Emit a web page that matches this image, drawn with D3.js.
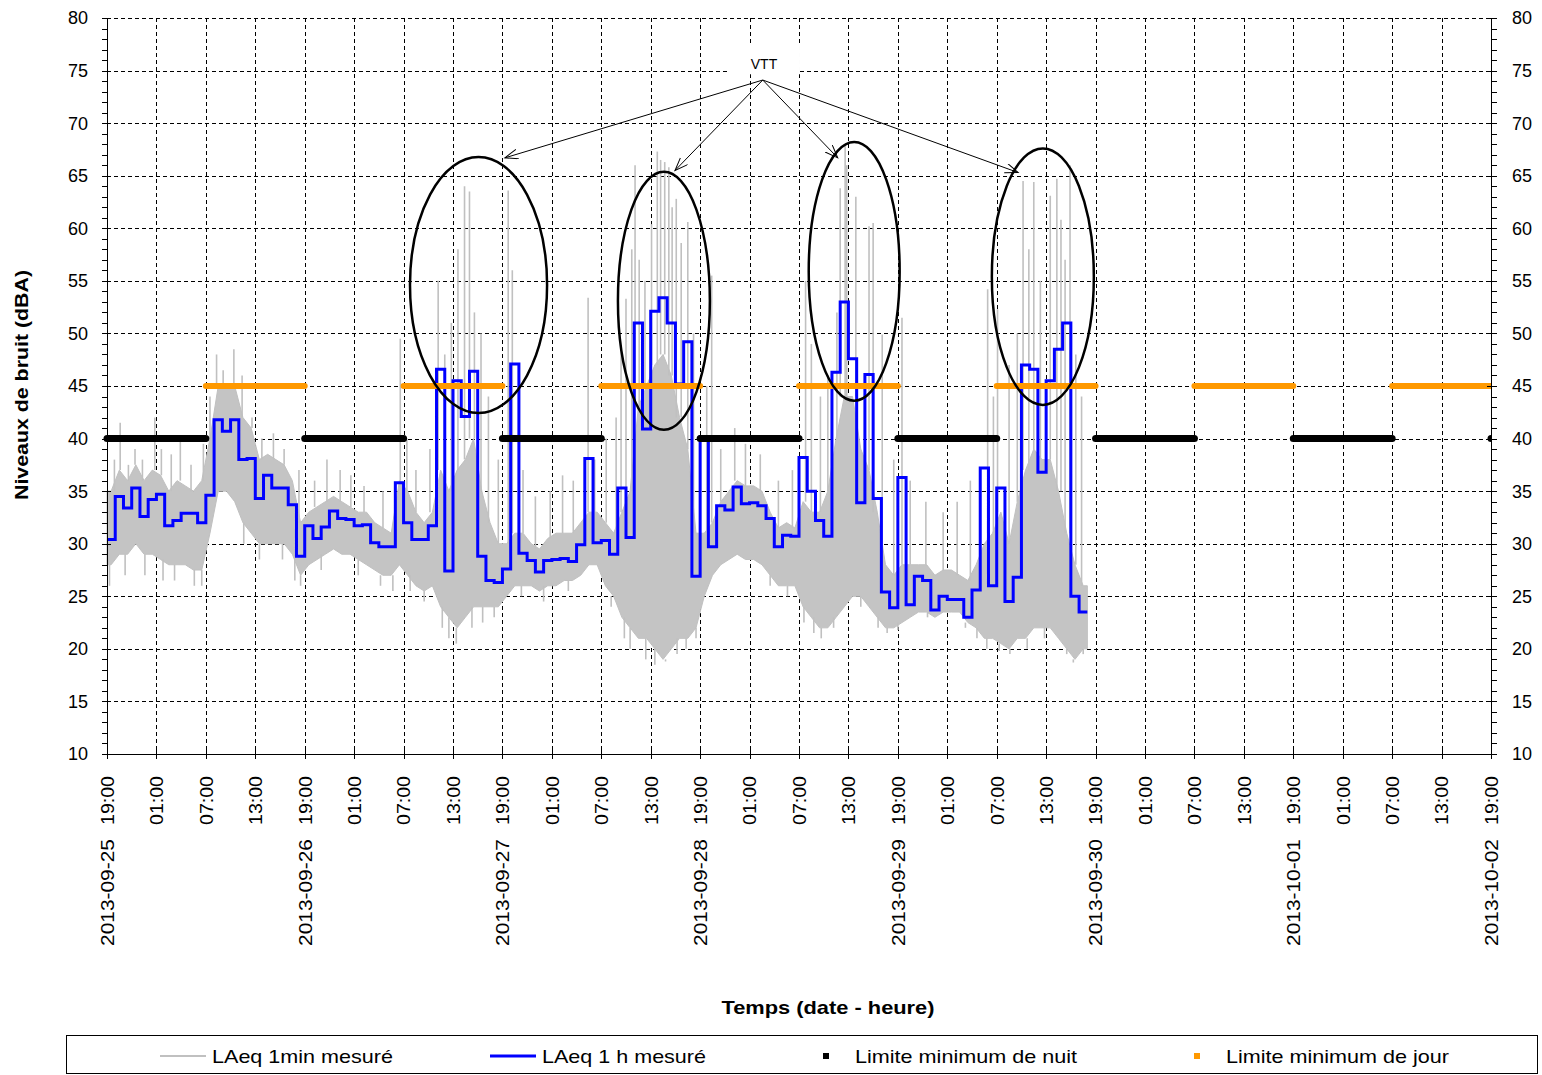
<!DOCTYPE html>
<html><head><meta charset="utf-8">
<script src="https://cdn.jsdelivr.net/npm/d3@7"></script>
<style>
body{margin:0;background:#fff}
text{font-family:Arial,"Liberation Sans",sans-serif;fill:#000}
</style>
</head><body>
<svg id="c" width="1542" height="1075"></svg>
<script>
// ---------------- DATA ----------------
const startTime = "2013-09-25T19:00";
const endTime   = "2013-10-02T19:00";

// LAeq 1 h measured (one value per hour, starting 2013-09-25 19:00)
const laeq1h = [
 30.4,34.5,33.4,35.3,32.6,34.2,34.7,31.7,32.2,32.9,32.9,32.0,
 34.6,41.8,40.7,41.8,38.0,38.1,34.3,36.5,35.3,35.3,33.7,28.8,
 31.7,30.5,31.6,33.1,32.4,32.3,31.7,31.8,30.1,29.7,29.7,35.8,
 32.0,30.4,30.4,31.7,46.6,27.4,45.5,42.1,46.4,28.8,26.5,26.3,
 27.6,47.1,29.1,28.4,27.3,28.4,28.5,28.6,28.3,29.9,38.1,30.1,
 30.3,29.0,35.3,30.6,51.0,40.9,52.1,53.4,51.0,45.2,49.2,26.9,
 40.2,29.7,33.6,33.2,35.4,33.8,33.9,33.6,32.4,29.7,30.8,30.7,
 38.2,35.0,32.2,30.7,46.3,53.0,47.6,33.9,46.1,34.3,25.4,23.9,
 36.3,24.2,26.9,26.5,23.7,25.0,24.7,24.7,23.0,25.6,37.2,26.0,
 35.3,24.5,26.8,47.0,46.6,36.8,45.5,48.5,51.0,25.0,23.5
];

// LAeq 1 min measured: per-hour lower / upper envelope of the minute values
const laeq1minLow = [
 28,29,29,30,29,29,28.5,28,28,28,27.5,27.5,
 31,35,35,34,32,31,30,30,30,30,29,27,
 28,28.5,29,29.5,29,29,28.5,28,27.5,27,27,28,
 27,26,25.5,26,24,23,22,23,24,24,24,24,
 25,26,26,26,25.5,26,26,26.5,26.5,27,28,28,
 26,25,23,22,21,21,20,19,20,21,21,22,
 25,27,28,28.5,29,28.5,28.5,28,27,26,26,26,
 24,23,22,22,23,24,25,25,24,23,22,22,
 22.5,23,23.5,23.5,23,23.5,23.5,23.5,22.5,22,21,21,
 20.5,20,21,21,22,22,22,21,20,19,20
];
const laeq1minHigh = [
 35,37,36,37.5,36,37,36.5,35,36,35.5,35,36,
 40,45,45,45,42,41,38,38.5,38,37.5,36,32,
 33,33.5,34,34.5,34,33.5,33,33,32,31.5,31,36,
 35,33,32,33,37,35,37,38,40,35,32,30,
 30,31,31,30,29.5,30.5,31,31,31,32,33,33,
 32,31,33,35,43,45,47,48,46,42,39,31,
 31,32,34,35,36,35.5,35.5,35,33,31.5,32,31.5,
 34,33,33,35,40,44,44,39,37,33,28,27,
 28,28,28,28,27,27.5,27.5,27,26.5,28,30,31,
 33,30,34,37,39,38,38,35,31,28,26
];
// isolated minute peaks [hour offset, dBA]
const laeq1minPeaks = [
 [0.9,38],[1.6,41.5],[2.6,37.5],[3.4,39],[4.3,38],[5.8,42],[6.6,39],[7.8,38.5],[8.9,40],[10.2,37.5],[11.7,39.5],
 [12.5,44],[13.3,48],[14.1,46.5],[15.4,48.5],[16.4,46],[17.6,42],[18.8,40],[20.2,40.5],[21.5,39],[23.3,37],
 [25.2,36],[26.7,38],[28.3,37],[29.6,36.5],[31.2,35.5],[33.5,35],[35.6,49.5],[36.4,40],[37.5,37],[39.2,39],
 [40.2,55],[41.0,48],[41.8,51],[42.6,58],[43.4,64],[44.0,63.5],[44.6,52],[45.4,50],[46.3,44],[47.5,38],
 [48.7,63.6],[49.2,56],[50.5,37],[52.0,34.5],[53.8,35],[55.3,36.5],[56.6,36],[58.4,53.4],[59.2,38],
 [60.6,40],[61.8,42],[62.4,48.8],[63.0,53.3],[63.7,58],[64.1,66],[64.6,57],[65.3,55],[66.1,60.4],[66.8,67.3],
 [67.2,66.5],[67.7,66.3],[68.2,65.8],[68.6,62],[69.1,62.8],[69.7,58.6],[70.5,60.6],[71.2,50],[72.8,45],
 [73.4,55.5],[74.5,39],[76.2,41],[77.5,39.5],[79.3,38.5],[81.5,36],[83.2,37],[84.8,55],[85.5,49],[86.6,44],
 [87.5,46],[88.6,52],[89.0,63.8],[89.6,68],[89.8,66],[90.9,63],[92.5,60.2],[93.0,60.5],[94.1,49.9],[95.5,38],
 [96.5,51.5],[97.5,36],[99.4,34],[101.5,33],[103.2,34],[104.8,36],[106.9,54.2],[107.6,44],[108.1,52.3],
 [109.5,47],[110.5,50],[111.2,64.5],[111.9,58],[112.5,64.4],[113.3,55],[114.5,63.1],[115.3,64.7],[115.8,60.8],
 [116.3,57],[116.9,66],[117.6,48],[118.3,44]
];
// isolated minute dips [hour offset, dBA]
const laeq1minDips = [
 [0.3,26],[2.2,27],[4.6,27],[6.8,26.5],[8.2,26.5],[10.6,26],[11.5,26],[16.6,30],[18.5,28.5],[21.3,28.5],
 [22.8,26.5],[23.5,26],[26,27.5],[30.5,27],[33.2,26],[34.7,25.5],[36.8,25.5],[38.5,24.5],[40.7,22],[41.5,21],
 [42.4,20.5],[44.3,22],[45.6,22.5],[47,23],[50.3,25],[53,24.5],[56,25.5],[61.2,24],[62.8,21],[63.5,20],
 [65.4,19],[66.5,18.5],[67.8,18.8],[69.2,19.5],[70.3,20],[71.5,21],[80.5,26],[82.6,25],[84.6,22.5],[85.8,21.5],
 [86.7,21],[88.2,22],[91.5,24],[93.6,22],[94.7,21.5],[96,21.8],[99.6,23],[104.2,22],[105.6,21],[106.8,20],
 [108.3,19.8],[109.6,19.5],[111.7,20],[113.8,21],[116.5,19.5],[117.3,18.7],[118.5,19.5]
];

const nightLimit = 40;
const dayLimit = 45;
// [start hour offset, end hour offset]
const nightPeriods = [[0,12],[24,36],[48,60],[72,84],[96,108],[120,132],[144,156],[168,168]];
const dayPeriods   = [[12,24],[36,48],[60,72],[84,96],[108,120],[132,144],[156,168]];

const yTickValues = [10,15,20,25,30,35,40,45,50,55,60,65,70,75,80];
const xTickHours  = [0,6,12,18,24,30,36,42,48,54,60,66,72,78,84,90,96,102,108,114,120,126,132,138,144,150,156,162,168];

const yTitle = "Niveaux de bruit (dBA)";
const xTitle = "Temps (date - heure)";
const legendLabels = ["LAeq 1min mesuré","LAeq 1 h mesuré","Limite minimum de nuit","Limite minimum de jour"];

// annotation "VTT": label, ellipses (centre hour, centre dB, radius hours, radius dB), arrow targets
const vttLabel = {text:"VTT", h:79.75, v:75.6};
const vttOrigin = [79.6, 74.1];
const vttEllipses = [[45.1,54.6,8.32,12.17],[67.6,53.1,5.58,12.27],[90.7,55.9,5.52,12.3],[113.6,55.4,6.19,12.2]];
const vttTargets = [[48.3,66.7],[68.95,65.5],[88.7,66.7],[110.6,65.3]];

// ---------------- CHART ----------------
const svg = d3.select("#c");
const parse = d3.timeParse("%Y-%m-%dT%H:%M");
const t0 = parse(startTime), t1 = parse(endTime);
const L = 107, R = 1491, T = 18, B = 754;
const x = d3.scaleTime().domain([t0, t1]).range([L, R]);
const y = d3.scaleLinear().domain([10, 80]).range([B, T]);
const hx = h => x(new Date(+t0 + h * 3600e3));

const defs = svg.append("defs");
defs.append("clipPath").attr("id","clipLim")
  .append("rect").attr("x",100).attr("y",T).attr("width",R-100).attr("height",B-T);
const mk = defs.append("marker").attr("id","arr")
  .attr("markerUnits","userSpaceOnUse").attr("markerWidth",16).attr("markerHeight",12)
  .attr("refX",13).attr("refY",5).attr("orient","auto");
mk.append("path").attr("d","M0,0 L13,5 L0,10").attr("fill","none").attr("stroke","#000").attr("stroke-width",1);

// grid
const grid = svg.append("g").attr("stroke","#000").attr("stroke-width",1).attr("stroke-dasharray","4,3");
yTickValues.filter(v => v > 10).forEach(v => {
  grid.append("line").attr("x1",L).attr("x2",R).attr("y1",Math.round(y(v))+0.5).attr("y2",Math.round(y(v))+0.5);
});
xTickHours.filter(h => h > 0 && h < 168).forEach(h => {
  const xx = Math.round(hx(h)) + 0.5;
  grid.append("line").attr("x1",xx).attr("x2",xx).attr("y1",T).attr("y2",B);
});

// gray 1-min band
const band = laeq1minLow.map((lo,i) => ({h:i+0.5, lo, hi:laeq1minHigh[i]}));
band.unshift({h:0, lo:laeq1minLow[0], hi:laeq1minHigh[0]});
band.push({h:laeq1minLow.length, lo:laeq1minLow[laeq1minLow.length-1], hi:laeq1minHigh[laeq1minHigh.length-1]});
svg.append("path").datum(band)
  .attr("d", d3.area().x(d=>hx(d.h)).y0(d=>y(d.lo)).y1(d=>y(d.hi)))
  .attr("fill","#c4c4c4").attr("stroke","#c0c0c0").attr("stroke-width",1);
const idx = h => Math.min(Math.floor(h), laeq1minHigh.length-1);
svg.append("g").selectAll("line").data(laeq1minPeaks).join("line")
  .attr("x1",d=>hx(d[0])).attr("x2",d=>hx(d[0]))
  .attr("y1",d=>y(laeq1minHigh[idx(d[0])]))
  .attr("y2",d=>y(d[1]))
  .attr("stroke","#c0c0c0").attr("stroke-width",1.6);
svg.append("g").selectAll("line").data(laeq1minDips).join("line")
  .attr("x1",d=>hx(d[0])).attr("x2",d=>hx(d[0]))
  .attr("y1",d=>y(laeq1minLow[idx(d[0])]))
  .attr("y2",d=>y(d[1]))
  .attr("stroke","#c0c0c0").attr("stroke-width",1.6);

// blue 1h step line
const stepData = laeq1h.map((v,i)=>[i,v]).concat([[laeq1h.length, laeq1h[laeq1h.length-1]]]);
svg.append("path").datum(stepData)
  .attr("d", d3.line().x(d=>hx(d[0])).y(d=>y(d[1])).curve(d3.curveStepAfter))
  .attr("fill","none").attr("stroke","#0000ff").attr("stroke-width",3).attr("stroke-linejoin","miter");

// limit lines
const lim = svg.append("g").attr("clip-path","url(#clipLim)");
lim.selectAll("line.n").data(nightPeriods).join("line").attr("class","n")
  .attr("x1",d=>hx(d[0])).attr("x2",d=>hx(d[1])).attr("y1",y(nightLimit)).attr("y2",y(nightLimit))
  .attr("stroke","#000").attr("stroke-width",7).attr("stroke-linecap","round");
lim.selectAll("line.d").data(dayPeriods).join("line").attr("class","d")
  .attr("x1",d=>hx(d[0])).attr("x2",d=>hx(d[1])).attr("y1",y(dayLimit)).attr("y2",y(dayLimit))
  .attr("stroke","#ff9900").attr("stroke-width",6).attr("stroke-linecap","round");

// annotations
svg.append("g").selectAll("ellipse").data(vttEllipses).join("ellipse")
  .attr("cx",d=>hx(d[0])).attr("cy",d=>y(d[1]))
  .attr("rx",d=>hx(d[2])-hx(0)).attr("ry",d=>y(0)-y(d[3]))
  .attr("fill","none").attr("stroke","#000").attr("stroke-width",2.5);
const lx = hx(vttLabel.h), ly = y(vttLabel.v);
svg.append("rect").attr("x",lx-34).attr("y",ly-20).attr("width",70).attr("height",30).attr("fill","#fff");
svg.append("text").attr("x",lx).attr("y",ly+5).attr("text-anchor","middle").attr("font-size",14).text(vttLabel.text);
svg.append("g").selectAll("line").data(vttTargets).join("line")
  .attr("x1",hx(vttOrigin[0])).attr("y1",y(vttOrigin[1]))
  .attr("x2",d=>hx(d[0])).attr("y2",d=>y(d[1]))
  .attr("stroke","#000").attr("stroke-width",1).attr("marker-end","url(#arr)");

// axes
const ax = svg.append("g").attr("stroke","#000").attr("stroke-width",1);
ax.append("line").attr("x1",L+0.5).attr("x2",L+0.5).attr("y1",T).attr("y2",B);
ax.append("line").attr("x1",R+0.5).attr("x2",R+0.5).attr("y1",T).attr("y2",B);
ax.append("line").attr("x1",L).attr("x2",R).attr("y1",B+0.5).attr("y2",B+0.5);
d3.range(10,81,1).forEach(v => {
  const yy = Math.round(y(v))+0.5;
  const major = yTickValues.includes(v);
  ax.append("line").attr("x1",L-5).attr("x2",major?L+4:L).attr("y1",yy).attr("y2",yy);
  ax.append("line").attr("x1",major?R-4:R).attr("x2",R+6).attr("y1",yy).attr("y2",yy);
});
xTickHours.forEach(h => {
  const xx = Math.round(hx(h))+0.5;
  ax.append("line").attr("x1",xx).attr("x2",xx).attr("y1",B-5).attr("y2",B+5);
});

// y labels
const yl = svg.append("g").attr("font-size",18);
yTickValues.forEach(v => {
  yl.append("text").attr("x",88).attr("y",y(v)).attr("dy","0.36em").attr("text-anchor","end").text(v);
  yl.append("text").attr("x",1512).attr("y",y(v)).attr("dy","0.36em").attr("text-anchor","start").text(v);
});
// x labels
const fTime = d3.timeFormat("%H:%M"), fDate = d3.timeFormat("%Y-%m-%d");
const xl = svg.append("g").attr("font-size",19);
xTickHours.forEach(h => {
  const d = new Date(+t0 + h*3600e3), xx = hx(h);
  xl.append("text").attr("transform",`translate(${xx},776) rotate(-90)`).attr("dy","0.36em")
    .attr("text-anchor","end").attr("textLength",49).attr("lengthAdjust","spacingAndGlyphs").text(fTime(d));
  if (d.getHours() === 19)
    xl.append("text").attr("transform",`translate(${xx},839) rotate(-90)`).attr("dy","0.36em")
      .attr("text-anchor","end").attr("textLength",107).attr("lengthAdjust","spacingAndGlyphs").text(fDate(d));
});

// titles
svg.append("text").attr("transform","translate(28,385) rotate(-90)").attr("text-anchor","middle")
  .attr("font-size",18).attr("font-weight","bold")
  .attr("textLength",230).attr("lengthAdjust","spacingAndGlyphs").text(yTitle);
svg.append("text").attr("x",828).attr("y",1014).attr("text-anchor","middle")
  .attr("font-size",19).attr("font-weight","bold")
  .attr("textLength",213).attr("lengthAdjust","spacingAndGlyphs").text(xTitle);

// legend
const lg = svg.append("g");
lg.append("rect").attr("x",66.5).attr("y",1035.5).attr("width",1471).attr("height",38)
  .attr("fill","#fff").attr("stroke","#000").attr("stroke-width",1);
const ly0 = 1056;
lg.append("line").attr("x1",160).attr("x2",206).attr("y1",ly0).attr("y2",ly0).attr("stroke","#c0c0c0").attr("stroke-width",2);
lg.append("line").attr("x1",490).attr("x2",536).attr("y1",ly0).attr("y2",ly0).attr("stroke","#0000ff").attr("stroke-width",3);
lg.append("rect").attr("x",823).attr("y",ly0-3).attr("width",6).attr("height",6).attr("fill","#000");
lg.append("rect").attr("x",1194).attr("y",ly0-3).attr("width",6).attr("height",6).attr("fill","#ff9900");
[[212,0,181],[542,1,164],[855,2,222],[1226,3,223]].forEach(([xx,i,w]) => {
  lg.append("text").attr("x",xx).attr("y",ly0).attr("dy","0.36em").attr("font-size",19)
    .attr("textLength",w).attr("lengthAdjust","spacingAndGlyphs").text(legendLabels[i]);
});
</script>
</body></html>
